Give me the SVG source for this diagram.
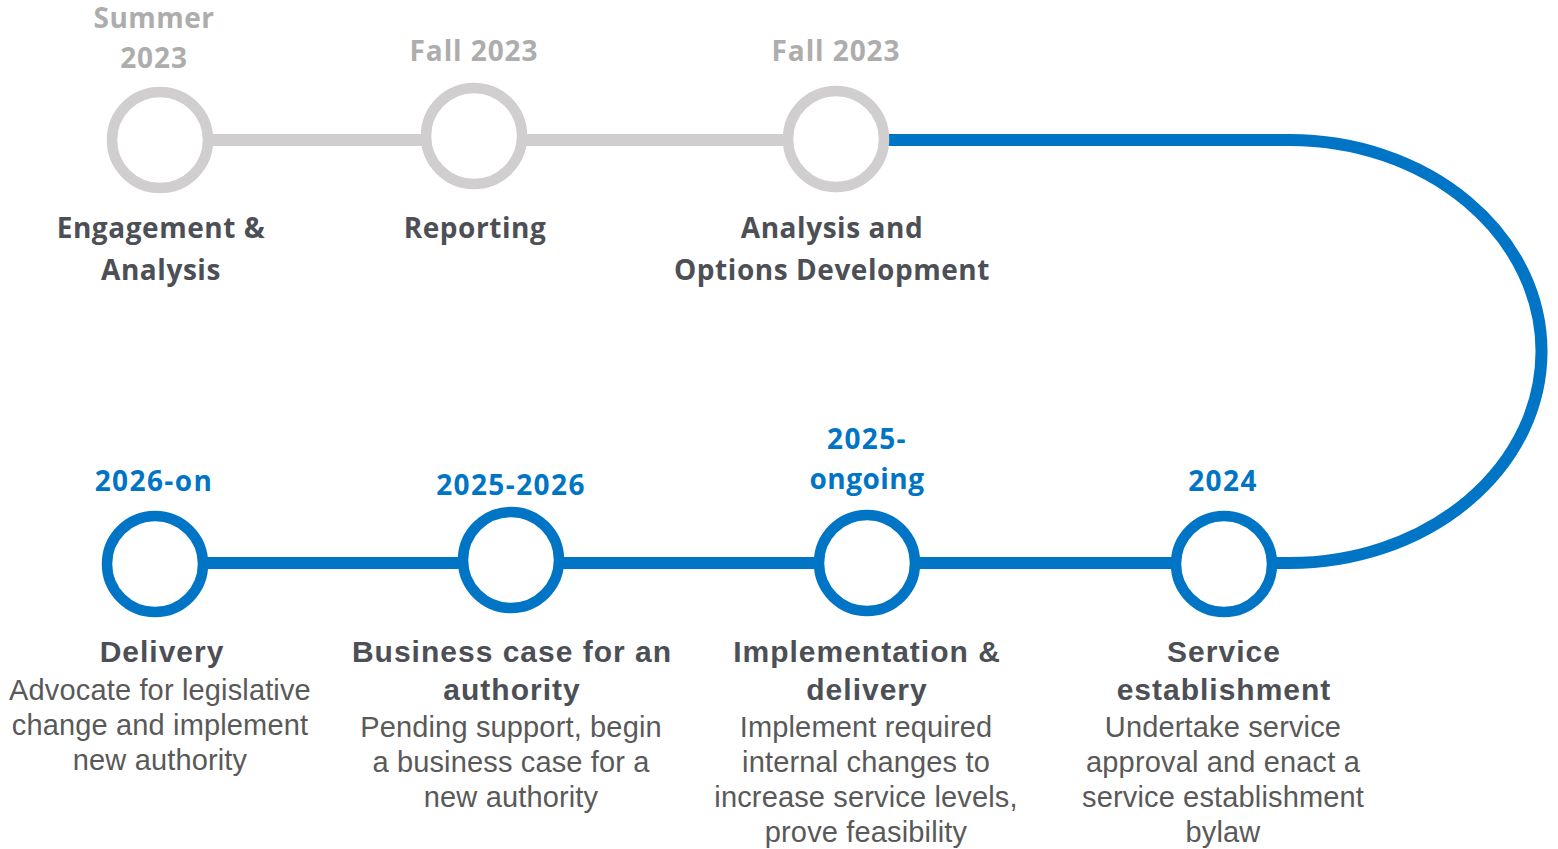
<svg xmlns="http://www.w3.org/2000/svg" width="1558" height="849" viewBox="0 0 1558 849">
  <style>
    .past { fill: #ffffff; stroke: #D0CECE; stroke-width: 10.5; }
    .next { fill: #ffffff; stroke: #0075C6; stroke-width: 10.5; }
    .line-past { fill: none; stroke: #D0CECE; stroke-width: 12; }
    .line-next { fill: none; stroke: #0075C6; stroke-width: 12; }
    text { text-anchor: middle; }
    .date-past { font-family: "Open Sans", "Noto Sans", sans-serif; font-weight: 700; font-size: 28px; fill: #ADADAD; letter-spacing: 0.9px; }
    .date-next { font-family: "Open Sans", "Noto Sans", sans-serif; font-weight: 700; font-size: 28px; fill: #0075C6; letter-spacing: 1.4px; }
    .word { letter-spacing: 0.5px; }
    .stage { font-family: "Open Sans", "Noto Sans", sans-serif; font-weight: 700; font-size: 28px; fill: #4C4F55; letter-spacing: 0.55px; }
    .title { font-family: "Liberation Sans", Arial, sans-serif; font-weight: 700; font-size: 30px; fill: #4C4F55; letter-spacing: 1px; }
    .desc { font-family: "Liberation Sans", Arial, sans-serif; font-size: 29px; fill: #595959; letter-spacing: 0.15px; }
  </style>

  <!-- track segments -->
  <g id="connectors">
    <line class="line-past" x1="160" y1="140" x2="836" y2="140"/>
    <path class="line-next" d="M836,140 H1290 A251,211 0 0 1 1290,563 H155"/>
  </g>

  <!-- completed stages -->
  <g id="node-engagement">
    <text class="date-past word" x="154" y="28">Summer</text>
    <text class="date-past" x="154" y="68">2023</text>
    <circle class="past" cx="160" cy="140" r="48"/>
    <text class="stage" x="161" y="238">Engagement &amp;</text>
    <text class="stage" x="161" y="280">Analysis</text>
  </g>

  <g id="node-reporting">
    <text class="date-past" x="474" y="61">Fall 2023</text>
    <circle class="past" cx="474" cy="136" r="48"/>
    <text class="stage" x="475" y="238">Reporting</text>
  </g>

  <g id="node-options">
    <text class="date-past" x="836" y="61">Fall 2023</text>
    <circle class="past" cx="836" cy="139" r="48"/>
    <text class="stage" x="832" y="238">Analysis and</text>
    <text class="stage" x="832" y="280">Options Development</text>
  </g>

  <!-- upcoming stages -->
  <g id="node-service">
    <text class="date-next" x="1223" y="491">2024</text>
    <circle class="next" cx="1224" cy="564" r="48"/>
    <text class="title" x="1224" y="662">Service</text>
    <text class="title" x="1224" y="700">establishment</text>
    <text class="desc" x="1223" y="737">Undertake service</text>
    <text class="desc" x="1223" y="772">approval and enact a</text>
    <text class="desc" x="1223" y="807">service establishment</text>
    <text class="desc" x="1223" y="842">bylaw</text>
  </g>

  <g id="node-implementation">
    <text class="date-next" x="867" y="449">2025-</text>
    <text class="date-next word" x="867" y="489">ongoing</text>
    <circle class="next" cx="867" cy="563" r="48"/>
    <text class="title" x="867" y="662">Implementation &amp;</text>
    <text class="title" x="867" y="700">delivery</text>
    <text class="desc" x="866" y="737">Implement required</text>
    <text class="desc" x="866" y="772">internal changes to</text>
    <text class="desc" x="866" y="807">increase service levels,</text>
    <text class="desc" x="866" y="842">prove feasibility</text>
  </g>

  <g id="node-business-case">
    <text class="date-next" x="511" y="495">2025-2026</text>
    <circle class="next" cx="511" cy="560" r="48"/>
    <text class="title" x="512" y="662">Business case for an</text>
    <text class="title" x="512" y="700">authority</text>
    <text class="desc" x="511" y="737">Pending support, begin</text>
    <text class="desc" x="511" y="772">a business case for a</text>
    <text class="desc" x="511" y="807">new authority</text>
  </g>

  <g id="node-delivery">
    <text class="date-next" x="154" y="491">2026-on</text>
    <circle class="next" cx="155" cy="564" r="48"/>
    <text class="title" x="162" y="662">Delivery</text>
    <text class="desc" x="160" y="700">Advocate for legislative</text>
    <text class="desc" x="160" y="735">change and implement</text>
    <text class="desc" x="160" y="770">new authority</text>
  </g>
</svg>
